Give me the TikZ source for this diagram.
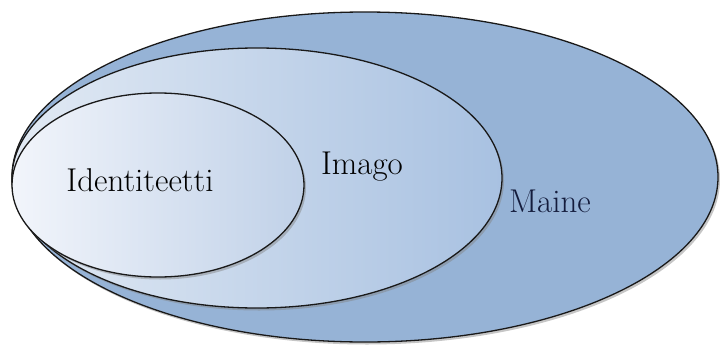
\documentclass[tikz,border=0pt]{standalone}
\usetikzlibrary{shapes.geometric,shadows}
\definecolor{maineblue}{RGB}{150,179,214}
\definecolor{imagoleft}{RGB}{226,234,244}
\definecolor{imagoright}{RGB}{168,193,225}
\definecolor{identleft}{RGB}{242,245,251}
\definecolor{identright}{RGB}{192,209,232}
\tikzstyle{ring}=[ellipse, draw=black!90, line width=1.3pt, inner sep=0pt,
  drop shadow={shadow xshift=2pt,shadow yshift=-2.5pt,opacity=0.45}]
\tikzstyle{mainering}=[ring, fill=maineblue]
\tikzstyle{imagoring}=[ring, left color=imagoleft, right color=imagoright]
\tikzstyle{identring}=[ring, left color=identleft, right color=identright]
\tikzstyle{nimi}=[font=\fontsize{33}{38}\selectfont, text=black, inner sep=0pt]
\begin{document}
\begin{tikzpicture}[x=1pt,y=-1pt]
  \useasboundingbox (0,0) rectangle (720,348);

  % Draw the three rings
  \node (maine) [mainering, minimum width=706pt, minimum height=330pt] at (365,177) {};
  \node (imago) [imagoring, minimum width=490pt, minimum height=260pt] at (257,178) {};
  \node (ident) [identring, minimum width=292pt, minimum height=184pt] at (158,185) {};

  % Labels
  \node (tident) [nimi] at (140,180) {Identiteetti};
  \node (timago) [nimi] at (362,167) {Imago};
  \node (tmaine) [nimi, text={rgb,255:red,20;green,28;blue,60}] at (550,201) {Maine};
\end{tikzpicture}
\end{document}
